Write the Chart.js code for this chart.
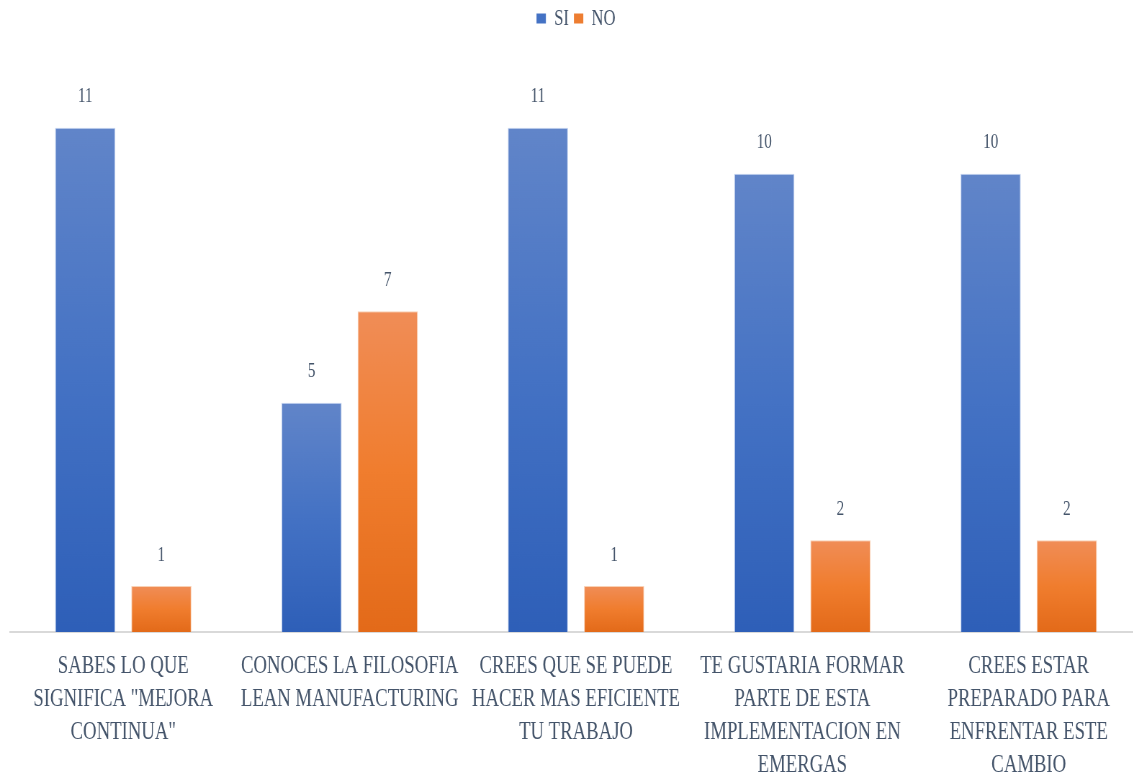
<!DOCTYPE html>
<html>
<head>
<meta charset="utf-8">
<script src="https://cdn.jsdelivr.net/npm/chart.js@4/dist/chart.umd.min.js"></script>
<style>
  html, body { margin: 0; padding: 0; background: #fff; overflow: hidden; }
  #wrap { width: 1590px; height: 774px; transform: scaleX(0.72); transform-origin: 0 0; }
</style>
</head>
<body>
<div id="wrap"><canvas id="chart" width="1590" height="774"></canvas></div>
<script>
// data
const categories = [
  ["SABES LO QUE", "SIGNIFICA \"MEJORA", "CONTINUA\""],
  ["CONOCES LA FILOSOFIA", "LEAN MANUFACTURING"],
  ["CREES QUE SE PUEDE", "HACER MAS EFICIENTE", "TU TRABAJO"],
  ["TE GUSTARIA FORMAR", "PARTE DE ESTA", "IMPLEMENTACION EN", "EMERGAS"],
  ["CREES ESTAR", "PREPARADO PARA", "ENFRENTAR ESTE", "CAMBIO"]
];
const siValues = [11, 5, 11, 10, 10];
const noValues = [1, 7, 1, 2, 2];

const textColor = "#44546a";
const serif = "Liberation Serif";

// gradient per bar, light at top, dark at bottom
function barGradient(stops, fallback) {
  return ctx => {
    const chart = ctx.chart;
    const y = chart.scales.y;
    if (!chart.chartArea || !y || ctx.parsed == null) return fallback;
    const top = y.getPixelForValue(ctx.parsed.y);
    const bottom = y.getPixelForValue(0);
    if (!isFinite(top) || !isFinite(bottom) || top === bottom) return fallback;
    const g = chart.ctx.createLinearGradient(0, top, 0, bottom);
    g.addColorStop(0, stops[0]);
    g.addColorStop(0.5, stops[1]);
    g.addColorStop(1, stops[2]);
    return g;
  };
}

// push the plot down below the legend
const legendGap = {
  id: "legendGap",
  beforeInit(chart) {
    const fit = chart.legend.fit;
    chart.legend.fit = function () {
      fit.bind(chart.legend)();
      this.height += 42;
    };
  }
};

// value labels over the bars
const valueLabels = {
  id: "valueLabels",
  afterDatasetsDraw(chart) {
    const ctx = chart.ctx;
    ctx.save();
    ctx.font = "21px " + serif;
    ctx.fillStyle = textColor;
    ctx.textAlign = "center";
    ctx.textBaseline = "middle";
    chart.data.datasets.forEach((ds, i) => {
      chart.getDatasetMeta(i).data.forEach((bar, j) => {
        ctx.fillText(ds.data[j], bar.x, bar.y - 31);
      });
    });
    ctx.restore();
  }
};

new Chart(document.getElementById("chart"), {
  type: "bar",
  data: {
    labels: categories,
    datasets: [
      {
        label: "SI",
        data: siValues,
        backgroundColor: barGradient(["#6185c9", "#4472c4", "#2e5fb8"], "#4472c4"),
        borderColor: "rgba(170,192,234,0.7)",
        borderWidth: 1,
        borderSkipped: "bottom"
      },
      {
        label: "NO",
        data: noValues,
        backgroundColor: barGradient(["#f08d57", "#f07d2e", "#e36a19"], "#ed7d31"),
        borderColor: "rgba(246,190,150,0.7)",
        borderWidth: 1,
        borderSkipped: "bottom"
      }
    ]
  },
  options: {
    responsive: false,
    animation: false,
    categoryPercentage: 0.673,
    barPercentage: 0.79,
    layout: { padding: { left: 14, right: 4, top: 0, bottom: -18 } },
    plugins: {
      tooltip: { enabled: false },
      legend: {
        position: "top",
        labels: {
          generateLabels: chart => chart.data.datasets.map((ds, i) => ({
            text: ds.label,
            fillStyle: i === 0 ? "#4472c4" : "#ed7d31",
            strokeStyle: "rgba(0,0,0,0)",
            lineWidth: 0,
            fontColor: textColor,
            datasetIndex: i
          })),
          boxWidth: 13,
          boxHeight: 10,
          padding: 7,
          color: textColor,
          font: { family: serif, size: 23 }
        }
      }
    },
    scales: {
      x: {
        grid: { display: false },
        border: { display: true, color: "#d9d9d9", width: 2 },
        ticks: {
          color: textColor,
          autoSkip: false,
          maxRotation: 0,
          padding: 10,
          font: { family: serif, size: 26, lineHeight: 1.27 }
        }
      },
      y: {
        display: false,
        min: 0,
        max: 12
      }
    }
  },
  plugins: [legendGap, valueLabels]
});
</script>
</body>
</html>
